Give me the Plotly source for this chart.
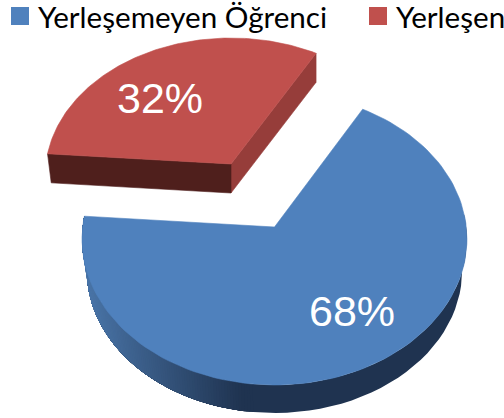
import math
import plotly.graph_objects as go

categories = ["Yerleşemeyen Öğrenci", "Yerleşen Öğrenci"]
values = [68, 32]
start_angle = 29.5

top_colors = ["#4f81bd", "#c0504d"]
red_front = "#4f1f1c"
red_side = "#963d3a"
wall_light = (74, 117, 168)
wall_dark = (31, 51, 80)

A, B, K = 191.8, 145.0, 0.082
WIDTH, HEIGHT = 504, 418


def project(theta_deg, apex, sx=1.0, sy=1.0):
    t = math.radians(theta_deg)
    u, v = math.sin(t), -math.cos(t)
    w = 1 - K * v
    return apex[0] + sx * A * u / w, apex[1] + sy * B * v / w


def arc(a0, a1, apex, sx=1.0, sy=1.0, n=120):
    pts = [project(a0 + (a1 - a0) * i / n, apex, sx, sy) for i in range(n + 1)]
    return [p[0] for p in pts], [p[1] for p in pts]


def poly(xs, ys, color, lw=0.6):
    return go.Scatter(x=xs + xs[:1], y=ys + ys[:1], mode="lines", fill="toself",
                      fillcolor=color, line=dict(color=color, width=lw),
                      hoverinfo="skip", showlegend=False)


def wall_band(b0, b1, color):
    xt, yt = arc(b0, b1, blue_apex, n=60)
    xb, yb = arc(b0, b1, blue_low, 0.975, 0.975, n=60)
    return poly(xt + xb[::-1], yt + yb[::-1], color, lw=0)


total = sum(values)
a0 = start_angle
a1 = a0 + 360 * values[0] / total
a2 = a0 + 360

fig = go.Figure()

# first slice: dark side wall, then lighter bands painted over its left part
blue_apex = (274.5, 227.0)
blue_low = (274.5, 259.0)
fig.add_trace(wall_band(85.0, a1, "rgb(%d,%d,%d)" % wall_dark))
n_seg = 110
lit_from = 186.0
for i in range(n_seg):
    b0 = lit_from + (a1 - lit_from) * i / n_seg
    x_here = project(b0, blue_apex)[0]
    f = min(1.0, max(0.0, (243 - x_here) / (243 - 85)))
    c = tuple(round(wall_dark[j] + (wall_light[j] - wall_dark[j]) * f) for j in range(3))
    fig.add_trace(wall_band(b0, a1, "rgb(%d,%d,%d)" % c))

xs, ys = arc(a0, a1, blue_apex)
fig.add_trace(poly([blue_apex[0]] + xs, [blue_apex[1]] + ys, top_colors[0]))

# second (exploded) slice
red_apex = (231.0, 164.0)
red_low = (231.0, 193.0)
SX, SY = 0.965, 0.94
xr0, yr0 = project(a1, red_apex, SX, SY)
xr1, yr1 = project(a2, red_apex, SX, SY)
xl0, yl0 = project(a1, red_low, SX * 0.98, SY)
xl1, yl1 = project(a2, red_low, SX, SY)
fig.add_trace(poly([red_apex[0], xr1, xl1, red_low[0]], [red_apex[1], yr1, yl1, red_low[1]], red_side))
fig.add_trace(poly([red_apex[0], xr0, xl0, red_low[0]], [red_apex[1], yr0, yl0, red_low[1]], red_front))
xs, ys = arc(a1, a2, red_apex, SX, SY)
fig.add_trace(poly([red_apex[0]] + xs, [red_apex[1]] + ys, top_colors[1]))

annotations = [
    dict(x=352, y=310.5, text=f"{values[0]}%", font=dict(family="Liberation Sans", size=43, color="white")),
    dict(x=160, y=97.5, text=f"{values[1]}%", font=dict(family="Liberation Sans", size=43, color="white")),
]
for x, name in zip([36, 394], categories):
    annotations.append(dict(x=x, y=16, text=name, xanchor="left",
                            font=dict(family="Lato", size=29.6, color="black")))
for a in annotations:
    a.update(xref="x", yref="y", showarrow=False)
    a.setdefault("xanchor", "center")
    a["yanchor"] = "middle"

shapes = [dict(type="rect", xref="x", yref="y", x0=x, x1=x + 18, y0=7, y1=25,
               fillcolor=c, line=dict(width=0)) for x, c in zip([11, 369], top_colors)]

fig.update_layout(width=WIDTH, height=HEIGHT, margin=dict(l=0, r=0, t=0, b=0),
                  paper_bgcolor="white", plot_bgcolor="white", showlegend=False,
                  annotations=annotations, shapes=shapes,
                  xaxis=dict(range=[0, WIDTH], visible=False, fixedrange=True),
                  yaxis=dict(range=[HEIGHT, 0], visible=False, fixedrange=True))

fig.write_html("out.html", config={"displayModeBar": False},
               post_script="document.body.style.margin='0';document.documentElement.style.overflow='hidden';")
